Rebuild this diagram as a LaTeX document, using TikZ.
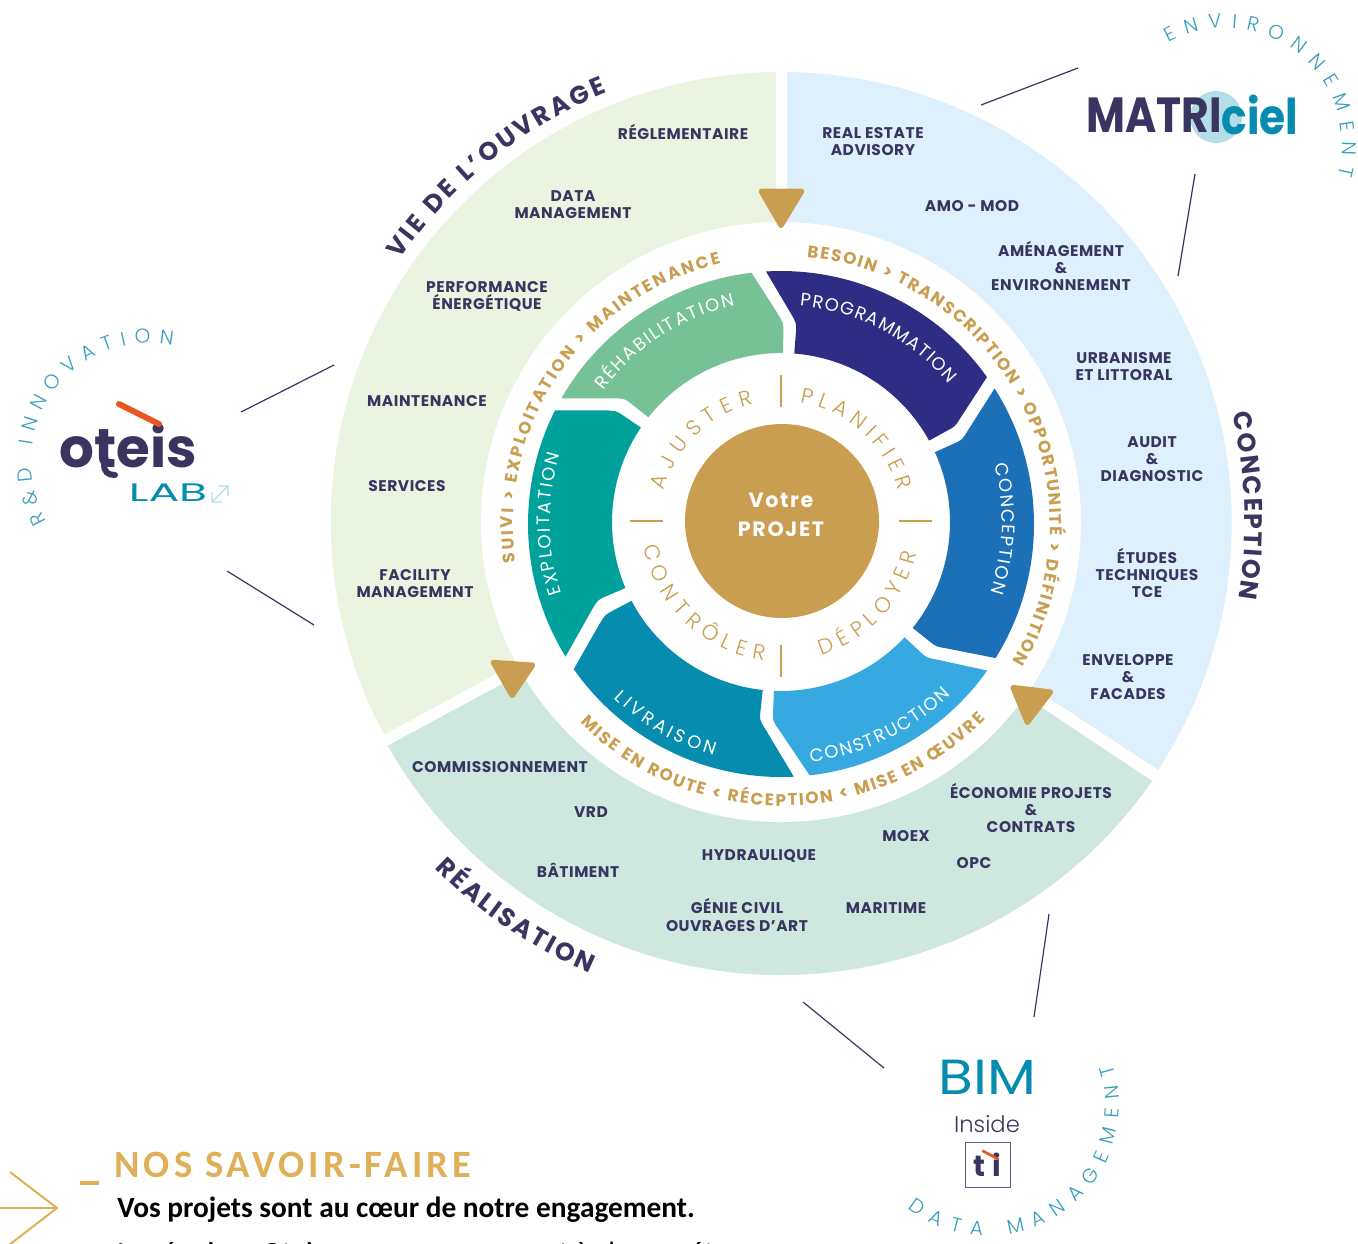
\documentclass[tikz,border=0pt]{standalone}
\usepackage{fontspec}
\usepackage{tikz}
\usetikzlibrary{decorations.text, calc}
\setmainfont{Poppins}
\newfontfamily\lightfont{Poppins Light}
\newfontfamily\callfont{Carlito}
\definecolor{ink}{HTML}{3A3560}
\definecolor{gold}{HTML}{C99E50}
\definecolor{sand}{HTML}{E0B058}
\definecolor{seablue}{HTML}{3A9FBC}
\definecolor{logoteal}{HTML}{058CAE}
\definecolor{flame}{HTML}{E9551F}
\definecolor{skyzone}{HTML}{DDF0FB}
\definecolor{mintzone}{HTML}{CEE7DF}
\definecolor{leafzone}{HTML}{EAF4E1}
\definecolor{navyblock}{HTML}{2E2D83}
\definecolor{blueblock}{HTML}{1C70B7}
\definecolor{skyblock}{HTML}{36A9E1}
\definecolor{petrolblock}{HTML}{058CAE}
\definecolor{tealblock}{HTML}{00A19A}
\definecolor{greenblock}{HTML}{76C196}
\newcommand{\pxfont}[2]{\fontsize{#1}{#2}\selectfont}
% text on an arc: font, start angle, end angle, radius, text
\newcommand{\bendtext}[5]{\path [decorate, decoration={text along path, text align=fit to path, text={|#1|#5}}] (#2:#4) arc [start angle=#2, end angle=#3, radius=#4];}
\newcommand{\ringfont}{\color{gold}\pxfont{12.6}{15}\bfseries}
\newcommand{\segfont}{\color{white}\pxfont{13.5}{16}}
\newcommand{\verbfont}{\color{gold}\lightfont\pxfont{16}{19}}
\newcommand{\titlefont}{\color{ink}\pxfont{19}{22}\bfseries}
\newcommand{\logofont}{\color{seablue}\lightfont\pxfont{15}{18}}
% one block of the wheel: colour, start tip, start inner, end tip, end inner
\newcommand{\wheelblock}[5]{\fill [#1] ($(0,-2)+(#2:253)$) arc [start angle=#2, end angle=#4, radius=253] -- ($(#5:199)!.18!(#4:253)$) .. controls (#5:199) .. ($(#5:199)!.3!(#5:169)$) -- (#5:169) arc [start angle=#5, end angle=#3, radius=169] -- ($(#3:199)!.3!(#3:169)$) .. controls (#3:199) .. ($(#3:199)!.18!(#2:253)$) -- cycle;}
\begin{document}
\begin{tikzpicture}[x=.75pt, y=.75pt,
item/.style={font=\pxfont{11.6}{12.8}\bfseries\addfontfeature{LetterSpace=3.5}, text=ink, align=center, inner sep=0pt},
marker/.style={fill=gold, draw=gold, line width=2pt, line join=round},
tick/.style={draw=gold, line width=.9pt},
link/.style={draw=ink, line width=.9pt}]
\useasboundingbox (0,0) rectangle (1358,-1243);
\begin{scope}[shift={(781,-522)}]
% three zones
\fill [skyzone] (6,450) arc [start angle=89.2, end angle=-33.2, radius=451] -- (6,-4) -- cycle;
\fill [mintzone] ($(0,-1)+(-34.8:452)$) arc [start angle=-34.8, end angle=-150.5, radius=452] -- (0,-12) -- cycle;
\fill [leafzone] (-5,450) arc [start angle=90.6, end angle=208.2, radius=450] -- (-5,0) -- cycle;
\fill [white] (0,0) circle [radius=300];
% wheel
\wheelblock{navyblock}{93.4}{85.5}{35.5}{28.8}
\wheelblock{blueblock}{32.4}{24.4}{-32}{-38.8}
\wheelblock{skyblock}{-35.4}{-43}{-83.5}{-92.4}
\wheelblock{petrolblock}{-87.1}{-96.2}{-145}{-152.2}
\wheelblock{tealblock}{211.6}{203}{153.3}{146}
\wheelblock{greenblock}{150.2}{141.7}{96.7}{89.3}
\bendtext{\segfont}{85}{39.5}{217}{PROGRAMMATION}
\bendtext{\segfont}{15}{-18.5}{221}{CONCEPTION}
\bendtext{\segfont}{-83}{-45.5}{242}{CONSTRUCTION}
\bendtext{\segfont}{226.5}{254}{243}{LIVRAISON}
\bendtext{\segfont}{198}{163}{231}{EXPLOITATION}
\bendtext{\segfont}{143.5}{102}{221}{RÉHABILITATION}
\begin{scope}[shift={(0,-3)}]
\bendtext{\ringfont}{84.5}{-30.5}{269}{BESOIN > TRANSCRIPTION > OPPORTUNITÉ > DÉFINITION}
\bendtext{\ringfont}{188}{103}{268}{SUIVI > EXPLOITATION > MAINTENANCE}
\end{scope}
\bendtext{\ringfont}{225}{316}{284}{MISE EN ROUTE < RÉCEPTION < MISE EN ŒUVRE}
\bendtext{\verbfont}{81}{15}{121}{PLANIFIER}
\bendtext{\verbfont}{165}{103}{121}{AJUSTER}
\bendtext{\verbfont}{190}{263}{139}{CONTRÔLER}
\bendtext{\verbfont}{287}{347}{139}{DÉPLOYER}
\bendtext{\titlefont}{145.5}{112}{463}{VIE DE L’OUVRAGE}
\bendtext{\titlefont}{13.5}{-9.5}{464}{CONCEPTION}
\bendtext{\titlefont}{225}{247}{490}{RÉALISATION}
\draw [tick] (0,147) -- (0,115);
\draw [tick] (0,-123) -- (0,-155);
\draw [tick] (-151,1) -- (-118,1);
\draw [tick] (118,1) -- (151,1);
\node (core) at (1,1) [circle, fill=gold, minimum size=194*.75pt, inner sep=0pt] {};
\node (votre) at (0,22) [font=\pxfont{15.5}{18}\bfseries\addfontfeature{LetterSpace=8}, text=white] {Votre};
\node (projet) at (0,-7) [font=\pxfont{15.5}{18}\bfseries\addfontfeature{LetterSpace=8}, text=white] {PROJET};
\end{scope}
% markers
\fill [marker, rounded corners=2] (759,-190) -- (804,-190) -- (781,-228) -- cycle;
\fill [marker, rounded corners=2] (1011,-686) -- (1053,-691) -- (1027,-725) -- cycle;
\fill [marker, rounded corners=2] (491,-661) -- (535,-664) -- (512,-698) -- cycle;
% left zone
\node (regl) at (683,-132) [item] {RÉGLEMENTAIRE};
\node (datam) at (573,-205) [item] {DATA\\MANAGEMENT};
\node (perf) at (487,-296) [item] {PERFORMANCE\\ÉNERGÉTIQUE};
\node (maint) at (427,-401) [item] {MAINTENANCE};
\node (serv) at (407,-486) [item] {SERVICES};
\node (facil) at (415,-584) [item] {FACILITY\\MANAGEMENT};
% right zone
\node (real) at (873,-142) [item] {REAL ESTATE\\ADVISORY};
\node (amo) at (972,-206) [item] {AMO - MOD};
\node (amen) at (1061,-266) [item] {AMÉNAGEMENT\\\&\\ENVIRONNEMENT};
\node (urba) at (1124,-367) [item] {URBANISME\\ET LITTORAL};
\node (audit) at (1152,-459) [item] {AUDIT\\\&\\DIAGNOSTIC};
\node (etud) at (1147,-573) [item] {ÉTUDES\\TECHNIQUES\\TCE};
\node (envel) at (1128,-677) [item] {ENVELOPPE\\\&\\FACADES};
% bottom zone
\node (comm) at (500,-767) [item] {COMMISSIONNEMENT};
\node (vrd) at (591,-812) [item] {VRD};
\node (bati) at (578,-870) [item] {BÂTIMENT};
\node (hydr) at (759,-856) [item] {HYDRAULIQUE};
\node (genie) at (737,-915) [item] {GÉNIE CIVIL\\OUVRAGES D’ART};
\node (moex) at (906,-836) [item] {MOEX};
\node (mari) at (886,-908) [item] {MARITIME};
\node (opc) at (974,-863) [item] {OPC};
\node (econ) at (1031,-808) [item] {ÉCONOMIE PROJETS\\\&\\CONTRATS};
% links
\coordinate (matria) at (981,-105);
\coordinate (matrib) at (1078,-68);
\coordinate (matric) at (1195,-174);
\coordinate (matrid) at (1178,-276);
\coordinate (lab a) at (241,-412);
\coordinate (lab b) at (334,-365);
\coordinate (lab c) at (227,-571);
\coordinate (lab d) at (314,-625);
\coordinate (bim a) at (803,-1002);
\coordinate (bim b) at (884,-1068);
\coordinate (bim c) at (1049,-914);
\coordinate (bim d) at (1034,-1017);
\draw [link] (matria) -- (matrib);
\draw [link] (matric) -- (matrid);
\draw [link] (lab a) -- (lab b);
\draw [link] (lab c) -- (lab d);
\draw [link] (bim a) -- (bim b);
\draw [link] (bim c) -- (bim d);
% matriciel
\fill [logoteal!30!white] (1216,-117) circle [radius=26];
\node (matri) at (1154,-115) [inner sep=0pt, text=ink, font=\pxfont{37}{40}\bfseries] {\scalebox{.86}[1]{MATRI}};
\node (ciel) at (1260,-115) [inner sep=0pt, text=logoteal, font=\pxfont{37}{40}\bfseries] {\scalebox{.86}[1]{ciel}};
\begin{scope}[shift={(1225,-145)}]
\bendtext{\logofont}{119}{-15}{117}{ENVIRONNEMENT}
\end{scope}
% oteis lab
\node (oteis) at (128,-446) [inner sep=0pt, text=ink, font=\pxfont{41}{44}\bfseries] {oteis};
\draw [ink, line width=4.5pt, line cap=round] (104,-450) -- (104,-464) .. controls (104,-472) and (108,-475) .. (115,-475);
\draw [flame, line width=4.5pt, line cap=round] (119,-404) -- (159,-424);
\node (lab) at (168,-493) [inner sep=0pt, text=logoteal, font=\pxfont{19}{22}] {\scalebox{1.8}[1]{LAB}};
\draw [logoteal!30!white, line width=1pt] (212,-502) -- (228,-486) (218,-486) -- (228,-486) -- (228,-496) (212,-492) -- (212,-502) -- (222,-502);
\begin{scope}[shift={(150,-462)}]
\bendtext{\logofont}{210}{79}{119}{R{\&}D INNOVATION}
\end{scope}
% bim
\node (bim) at (987.5,-1077) [inner sep=0pt, text=logoteal, font=\pxfont{37}{40}] {\scalebox{1.15}[1]{BIM}};
\node (inside) at (987,-1124) [inner sep=0pt, text=ink, font=\lightfont\pxfont{17}{20}] {Inside};
\node (tibox) at (987.5,-1164.5) [draw=ink!80!white, line width=.7pt, minimum size=45*.75pt, inner sep=0pt, text=ink, font=\pxfont{22}{24}\bfseries\addfontfeature{LetterSpace=25}] {ti};
\draw [flame, line width=2pt, line cap=round] (983,-1151) -- (998,-1159);
\begin{scope}[shift={(988,-1105)}]
\bendtext{\logofont}{232}{378}{131}{DATA MANAGEMENT}
\end{scope}
% heading
\draw [sand, line width=1.5pt] (0,-1208) -- (57,-1208);
\draw [sand, line width=1.5pt] (10,-1172) -- (57,-1208) -- (9,-1245);
\draw [sand, line width=3pt] (80,-1183) -- (99,-1183);
\node (savoir) at (114,-1165) [anchor=west, inner sep=0pt, text=sand, font=\callfont\pxfont{29}{32}\bfseries\addfontfeature{LetterSpace=10.5}] {NOS SAVOIR-FAIRE};
\node (vos) at (117,-1210) [anchor=west, inner sep=0pt, text=black, font=\callfont\pxfont{22}{25}\bfseries] {Vos projets sont au cœur de notre engagement.};
\node (equipes) at (117,-1255) [anchor=west, inner sep=0pt, text=black, font=\callfont\pxfont{22}{24}] {Les équipes Oteis vous accompagnent à chaque étape};
\end{tikzpicture}
\end{document}
